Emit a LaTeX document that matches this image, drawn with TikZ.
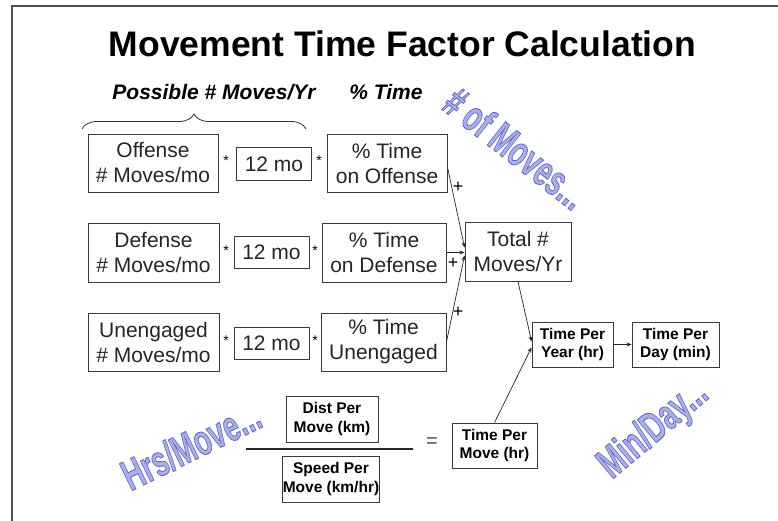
\documentclass[tikz,border=0pt]{standalone}
\usepackage{fontspec}
\setmainfont{Liberation Sans}
\usetikzlibrary{arrows.meta,decorations.pathreplacing}

\definecolor{frameline}{HTML}{505050}
\definecolor{boxline}{HTML}{3A3A3A}
\definecolor{artfill}{HTML}{AAAEEC}

\tikzset{
  plainbox/.style={draw=boxline, line width=0.9pt, align=center, inner sep=0pt,
    font=\fontsize{21}{25}\selectfont, text=black!85},
  boldbox/.style={draw=boxline, line width=0.9pt, align=center, inner sep=0pt,
    font=\bfseries\fontsize{15.5}{18.5}\selectfont},
  flow/.style={draw=black!85, line width=0.7pt, -{Stealth[length=5pt,width=4pt]}},
  opsign/.style={anchor=base, inner sep=0pt, font=\fontsize{14}{14}\selectfont},
  plussign/.style={anchor=base, inner sep=0pt, font=\fontsize{18}{18}\selectfont},
  header/.style={anchor=base, inner sep=0pt, font=\bfseries\itshape\fontsize{21}{21}\selectfont},
  arttext/.style={inner sep=0pt, font=\bfseries\fontsize{43}{43}\selectfont, text=artfill},
}

% WordArt-like rotated caption: light face, darker blue outline (fill+stroke render mode)
\newcommand{\outlined}[1]{%
  \special{pdf:literal direct 2 Tr 0.9 w 0.38 0.40 0.76 RG}#1\special{pdf:literal direct 0 Tr}}
\newcommand{\artlabel}[4]{%
  \node[arttext, rotate=#3] (#4) at (#1) {\scalebox{0.65}[1]{\outlined{#2}}};
}

\begin{document}
\begin{tikzpicture}[x=1pt, y=-1pt]
\useasboundingbox (0,0) rectangle (778,521);
\fill[white] (0,0) rectangle (778,521);

% slide frame
\draw[frameline, line width=1.4pt] (12,521) -- (12,6) -- (778,6);

% title and column headings
\node[anchor=base, inner sep=0pt, font=\bfseries\fontsize{35.5}{35.5}\selectfont] (title) at (402.5,57) {Movement Time Factor Calculation};
\node[header] (hpos) at (214,99.5) {Possible \# Moves/Yr};
\node[header] (hpct) at (386,99.5) {\% Time};

% brace over the first two columns
\coordinate (bl) at (82,129);
\coordinate (br) at (306,129);
\draw[black!80, line width=0.8pt, decorate, decoration={brace, amplitude=15pt, aspect=0.5}] (bl) -- (br);

% row 1: offense
\node[plainbox, minimum width=130, minimum height=58] (off) at (153,163) {Offense\\\# Moves/mo};
\node[plainbox, minimum width=75, minimum height=33] (m1) at (274,164) {12 mo};
\node[plainbox, minimum width=120, minimum height=58] (pto) at (387,163) {\% Time\\on Offense};

% row 2: defense
\node[plainbox, minimum width=131, minimum height=59] (def) at (153.5,252.5) {Defense\\\# Moves/mo};
\node[plainbox, minimum width=75, minimum height=32] (m2) at (271.5,252) {12 mo};
\node[plainbox, minimum width=124, minimum height=59] (ptd) at (384,252.5) {\% Time\\on Defense};

% row 3: unengaged
\node[plainbox, minimum width=131, minimum height=58] (une) at (153.5,342) {Unengaged\\\# Moves/mo};
\node[plainbox, minimum width=75, minimum height=32] (m3) at (271.5,343) {12 mo};
\node[plainbox, minimum width=125, minimum height=58] (ptu) at (383.5,342) {\% Time\\Unengaged};

% multiplication signs
\node[opsign] (s11) at (226,166) {*};
\node[opsign] (s12) at (319,166) {*};
\node[opsign] (s21) at (226,255) {*};
\node[opsign] (s22) at (315,255) {*};
\node[opsign] (s31) at (226,345) {*};
\node[opsign] (s32) at (315,345) {*};

% totals and time nodes
\node[plainbox, minimum width=106, minimum height=59] (tot) at (518,251.5) {Total \#\\Moves/Yr};
\node[boldbox, minimum width=81, minimum height=45] (tpy) at (572.5,344.5) {Time Per\\Year (hr)};
\node[boldbox, minimum width=87, minimum height=45] (tpd) at (675.5,344.5) {Time Per\\Day (min)};
\node[boldbox, minimum width=85, minimum height=45] (tpm) at (494.5,445.5) {Time Per\\Move (hr)};

% distance over speed
\node[boldbox, minimum width=92, minimum height=46] (dist) at (332,419) {Dist Per\\Move (km)};
\node[boldbox, minimum width=96, minimum height=46] (spd) at (331,479) {Speed Per\\Move (km/hr)};
\coordinate (fl) at (246,449);
\coordinate (fr) at (413,449);
\draw[black!85, line width=1.1pt] (fl) -- (fr);
\node[inner sep=0pt, font=\fontsize{20}{20}\selectfont, text=black!70] (eq) at (432,443) {=};

% summing connectors
\draw[flow] ([yshift=-4pt]pto.east) -- ([yshift=4pt]tot.west);
\draw[flow] (ptd.east) -- (ptd.east -| tot.west);
\draw[flow] (ptu.east) -- ([yshift=-4pt]tot.west);
\node[plussign] (p1) at (458,193) {+};
\node[plussign] (p2) at (453,268) {+};
\node[plussign] (p3) at (458,317) {+};

% onward connectors
\draw[flow] (tot.south) -- ([yshift=3pt]tpy.west);
\draw[flow] (tpm.north) -- ([yshift=-3pt]tpy.west);
\draw[flow] (tpy.east) -- (tpd.west);

% decorative captions
\artlabel{516,148}{\# of Moves...}{-38}{wa}
\artlabel{191,445}{Hrs/Move...}{26}{wb}
\artlabel{654,430}{Min/Day...}{40}{wc}
\end{tikzpicture}
\end{document}
